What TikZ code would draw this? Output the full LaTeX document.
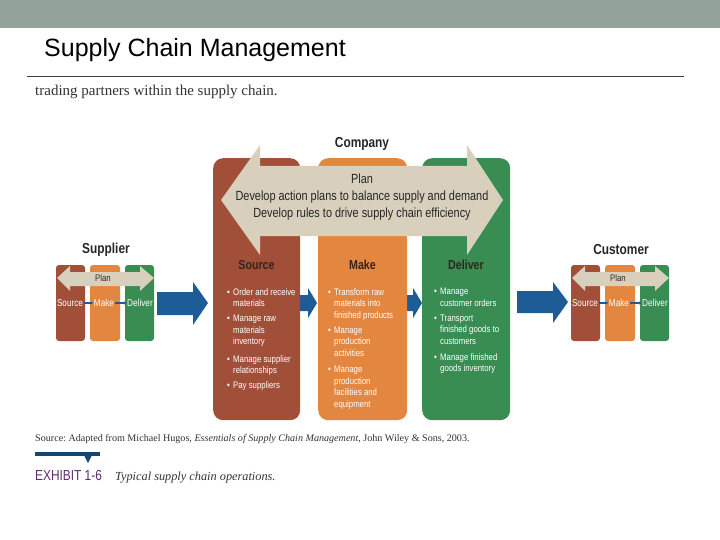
\documentclass[tikz,border=0pt]{standalone}
\usepackage{fontspec}
\setmainfont{Liberation Serif}
\setsansfont{Liberation Sans}
\newfontfamily\condfont[FakeStretch=0.82]{Liberation Sans}
\usetikzlibrary{positioning,arrows.meta}
\definecolor{srcbrown}{RGB}{161,79,56}
\definecolor{mkorange}{RGB}{226,134,64}
\definecolor{dlvgreen}{RGB}{57,140,82}
\definecolor{planbeige}{RGB}{216,207,188}
\definecolor{flowblue}{RGB}{30,92,152}
\definecolor{bandgray}{RGB}{148,163,154}
\definecolor{exhpurple}{RGB}{92,45,110}
\definecolor{labeldark}{RGB}{50,36,30}
\newcommand{\bul}{\makebox[6pt][l]{\textbullet}}
\newcommand{\cnt}{\hspace*{6pt}}
\frenchspacing
\tikzset{
  mainbox/.style = {rectangle, rounded corners = 10pt, minimum height = 262, anchor = north west, inner sep = 0},
  boxlabel/.style = {font = \condfont\bfseries\fontsize{13}{15}\selectfont, text = labeldark},
  bulletlist/.style = {anchor = north west, align = left, inner sep = 0, text = white, font = \condfont\fontsize{9.5}{11.5}\selectfont},
  minilab/.style = {font = \condfont\fontsize{10}{11}\selectfont, text = white, inner sep = 0.5pt},
}

\begin{document}
\begin{tikzpicture}[x = 1pt, y = -1pt]
\useasboundingbox (0,0) rectangle (720,540);
\fill[bandgray] (0,0) rectangle (720,28);
\node[anchor = base west, inner sep = 0, font = \sffamily\fontsize{25}{29}\selectfont] (title) at (44,57) {Supply Chain Management};
\draw[line width = 1pt, black!75] (27,77) -- (684,77);
\node[anchor = base west, inner sep = 0, font = \fontsize{15}{17}\selectfont, text = black!80] (lead) at (35,96) {trading partners within the supply chain.};

\node[anchor = base, font = \condfont\bfseries\fontsize{14.5}{16}\selectfont, text = black!85] (company) at (362,148) {Company};

% flow arrows behind the boxes
\fill[flowblue] (290,295) -- (308,295) -- (308,288) -- (317,303) -- (308,318) -- (308,311) -- (290,311) -- cycle;
\fill[flowblue] (395,295) -- (413,295) -- (413,288) -- (422,303) -- (413,318) -- (413,311) -- (395,311) -- cycle;
\fill[flowblue] (157,292) -- (193,292) -- (193,282) -- (208,303) -- (193,325) -- (193,315) -- (157,315) -- cycle;
\fill[flowblue] (517,291) -- (553,291) -- (553,282) -- (568,302) -- (553,323) -- (553,313) -- (517,313) -- cycle;

\node[mainbox, fill = srcbrown, minimum width = 87] (src) at (213,158) {};
\node[mainbox, fill = mkorange, minimum width = 89] (mk) at (318,158) {};
\node[mainbox, fill = dlvgreen, minimum width = 88] (dlv) at (422,158) {};

\fill[planbeige] (221,200) -- (260,145) -- (260,166) -- (467,166) -- (467,145) -- (503,200) -- (467,255) -- (467,236) -- (260,236) -- (260,255) -- cycle;
\node[align = center, font = \condfont\fontsize{13.3}{17}\selectfont, text = black!85] (plantext) at (362,197) {Plan\\Develop action plans to balance supply and demand\\Develop rules to drive supply chain efficiency};

\node[boxlabel] (srclab) at (256.5,265) {Source};
\node[boxlabel] (mklab) at (362.5,265) {Make};
\node[boxlabel] (dlvlab) at (466,265) {Deliver};

\node[bulletlist] (srclist) at (227,288) {\bul Order and receive\\\cnt materials\\[3.5pt]\bul Manage raw\\\cnt materials\\\cnt inventory\\[6pt]\bul Manage supplier\\\cnt relationships\\[3.5pt]\bul Pay suppliers};
\node[bulletlist] (mklist) at (328,288) {\bul Transform raw\\\cnt materials into\\\cnt finished products\\[3.5pt]\bul Manage\\\cnt production\\\cnt activities\\[5pt]\bul Manage\\\cnt production\\\cnt facilities and\\\cnt equipment};
\node[bulletlist] (dlvlist) at (434,288) {\bul Manage\\\cnt customer orders\\[3.5pt]\bul Transport\\\cnt finished goods to\\\cnt customers\\[4.5pt]\bul Manage finished\\\cnt goods inventory};

\foreach \mx/\who in {56/Supplier, 571/Customer} {
  \node[font = \condfont\bfseries\fontsize{14.5}{16}\selectfont, text = black!85] (name\who) at (\mx+50,250) {\who};
  \fill[srcbrown, rounded corners = 3pt] (\mx,265) rectangle (\mx+29,341);
  \fill[mkorange, rounded corners = 3pt] (\mx+34,265) rectangle (\mx+64,341);
  \fill[dlvgreen, rounded corners = 3pt] (\mx+69,265) rectangle (\mx+98,341);
  \fill[planbeige] (\mx+1,278) -- (\mx+14,266) -- (\mx+14,272) -- (\mx+84,272) -- (\mx+84,266) -- (\mx+98,278) -- (\mx+84,291) -- (\mx+84,286) -- (\mx+14,286) -- (\mx+14,291) -- cycle;
  \node[font = \condfont\fontsize{9.5}{11}\selectfont, text = labeldark] (plan\who) at (\mx+47,278) {Plan};
  \node[minilab] (s\who) at (\mx+14,303) {Source};
  \node[minilab] (m\who) at (\mx+48,303) {Make};
  \node[minilab] (d\who) at (\mx+84,303) {Deliver};
  \draw[flowblue, line width = 1.2pt, -{Latex[length = 2.5pt, width = 3.5pt]}] (s\who) -- (m\who);
  \draw[flowblue, line width = 1.2pt, -{Latex[length = 2.5pt, width = 3.5pt]}] (m\who) -- (d\who);
}

\node[anchor = base west, inner sep = 0, font = \fontsize{10.1}{12}\selectfont, text = black!80] (source) at (35,441) {Source: Adapted from Michael Hugos, \textit{Essentials of Supply Chain Management}, John Wiley \& Sons, 2003.};
\fill[flowblue!75!black] (35,452) rectangle (100,456);
\fill[flowblue!75!black] (84,455) -- (92,455) -- (88,463) -- cycle;
\node[anchor = base west, inner sep = 0, font = \condfont\fontsize{14.5}{16}\selectfont, text = exhpurple] (exhibit) at (35,480) {EXHIBIT 1-6};
\node[anchor = base west, inner sep = 0, font = \itshape\fontsize{12.3}{15}\selectfont, text = black!80] (caption) at (115,480) {Typical supply chain operations.};
\end{tikzpicture}
\end{document}
